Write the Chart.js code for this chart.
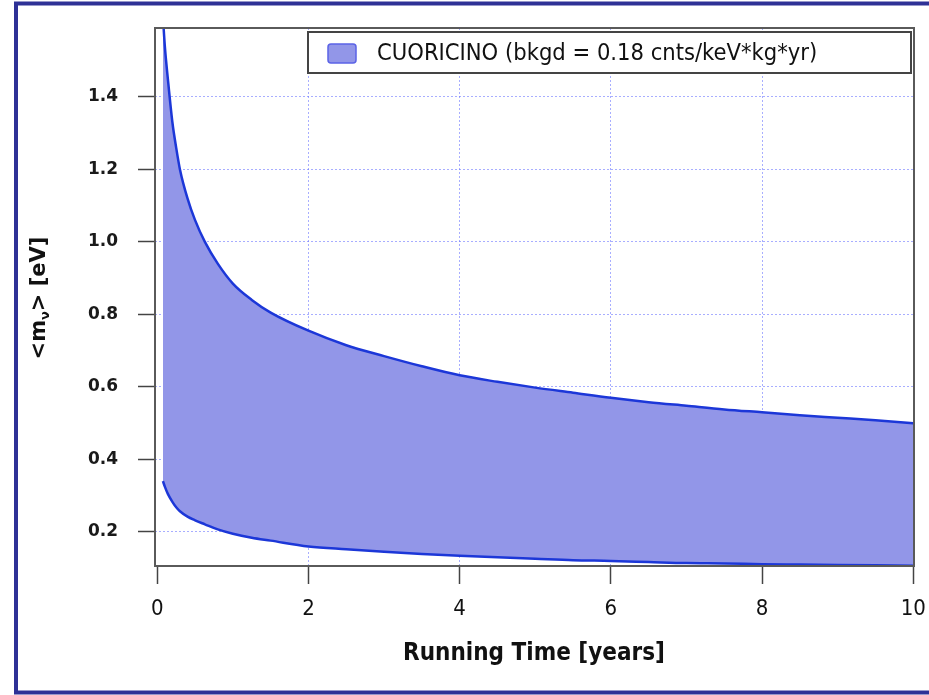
<!DOCTYPE html>
<html>
<head>
<meta charset="utf-8">
<script src="https://cdn.jsdelivr.net/npm/chart.js@4/dist/chart.umd.min.js"></script>
<style>
  html, body { margin: 0; padding: 0; background: #fff; }
  #wrap { width: 929px; height: 695px; }
</style>
</head>
<body>
<div id="wrap"><canvas id="mchart" width="929" height="695"></canvas></div>
<script>
// running time in years
const years = [0.075, 0.1, 0.14, 0.2, 0.25, 0.3, 0.4, 0.5, 0.63, 0.8, 1, 1.25, 1.5, 2, 2.5, 3, 3.5, 4, 4.5, 5, 5.5, 6, 6.5, 7, 7.5, 8, 8.5, 9, 9.5, 10];
// sensitivity band on <m_nu> in eV
const upperMass = [1.62, 1.54, 1.45, 1.33, 1.26, 1.20, 1.12, 1.06, 1.00, 0.94, 0.885, 0.84, 0.805, 0.755, 0.715, 0.685, 0.657, 0.632, 0.614, 0.598, 0.584, 0.570, 0.558, 0.548, 0.538, 0.530, 0.522, 0.515, 0.508, 0.500];
const lowerMass = [0.34, 0.325, 0.305, 0.283, 0.268, 0.257, 0.242, 0.232, 0.221, 0.207, 0.195, 0.184, 0.176, 0.160, 0.152, 0.145, 0.139, 0.134, 0.130, 0.126, 0.122, 0.120, 0.117, 0.114, 0.113, 0.111, 0.110, 0.109, 0.108, 0.107];
const xTicks = [0, 2, 4, 6, 8, 10];
const yTicks = [0.2, 0.4, 0.6, 0.8, 1.0, 1.2, 1.4];
const seriesLabel = 'CUORICINO (bkgd = 0.18 cnts/keV*kg*yr)';

const narrow = '"Liberation Sans Narrow", "DejaVu Sans Condensed", sans-serif';
const lineBlue = '#1c37d8';
const bandFill = '#9296e8';
const gridBlue = 'rgba(110,120,255,0.6)';

const decorations = {
  id: 'decorations',
  afterDraw(chart) {
    const ctx = chart.ctx;
    const a = chart.chartArea;
    ctx.save();

    // plot box
    ctx.strokeStyle = '#5a5a5a';
    ctx.lineWidth = 2;
    ctx.strokeRect(a.left, a.top, a.right - a.left, a.bottom - a.top);

    // legend
    ctx.fillStyle = '#fff';
    ctx.fillRect(308, 32, 603, 41);
    ctx.strokeStyle = '#444';
    ctx.lineWidth = 2;
    ctx.strokeRect(308, 32, 603, 41);
    ctx.fillStyle = bandFill;
    ctx.strokeStyle = '#5b63e6';
    ctx.lineWidth = 1.5;
    ctx.beginPath();
    ctx.roundRect(328, 44, 28, 19, 3);
    ctx.fill();
    ctx.stroke();
    ctx.fillStyle = '#111';
    ctx.font = '23.5px ' + narrow;
    ctx.textBaseline = 'middle';
    ctx.textAlign = 'left';
    ctx.fillText(chart.data.datasets[0].label, 377, 54);

    // x title
    ctx.font = 'bold 24px ' + narrow;
    ctx.textAlign = 'center';
    ctx.fillStyle = '#111';
    ctx.fillText('Running Time [years]', 534, 654);

    // y title with subscript nu
    ctx.translate(40, 298);
    ctx.rotate(-Math.PI / 2);
    const big = 'bold 21px "DejaVu Sans", sans-serif';
    const small = 'bold 13px "DejaVu Sans", sans-serif';
    ctx.font = big;
    const w1 = ctx.measureText('<m').width;
    const w3 = ctx.measureText('> [eV]').width;
    ctx.font = small;
    const w2 = ctx.measureText('\u03bd').width;
    let x = -(w1 + w2 + w3) / 2;
    ctx.textAlign = 'left';
    ctx.font = big;
    ctx.fillText('<m', x, 0);
    x += w1;
    ctx.font = small;
    ctx.fillText('\u03bd', x, 6);
    x += w2;
    ctx.font = big;
    ctx.fillText('> [eV]', x, 0);
    ctx.setTransform(1, 0, 0, 1, 0, 0);

    // outer frame
    ctx.strokeStyle = '#2e3196';
    ctx.lineWidth = 4;
    ctx.strokeRect(16, 3.5, 940, 689);
    ctx.restore();
  }
};

new Chart(document.getElementById('mchart'), {
  type: 'line',
  data: {
    labels: years,
    datasets: [{
      label: seriesLabel,
      data: upperMass,
      borderColor: lineBlue,
      borderWidth: 2.5,
      backgroundColor: bandFill,
      pointRadius: 0,
      cubicInterpolationMode: 'monotone',
      fill: '+1'
    }, {
      label: 'lower',
      data: lowerMass,
      borderColor: lineBlue,
      borderWidth: 2.5,
      pointRadius: 0,
      cubicInterpolationMode: 'monotone',
      fill: false
    }]
  },
  options: {
    responsive: false,
    animation: false,
    layout: { padding: { top: 28, right: 15, left: 0, bottom: 0 } },
    plugins: {
      legend: { display: false },
      tooltip: { enabled: false },
      filler: { drawTime: 'beforeDatasetsDraw' }
    },
    scales: {
      x: {
        type: 'linear',
        min: -0.03,
        max: 10.01,
        afterBuildTicks: s => { s.ticks = xTicks.map(v => ({ value: v })); },
        afterFit: s => { s.height = 129; s.paddingLeft = 0; s.paddingRight = 0; },
        border: { display: false, dash: [2, 2] },
        grid: {
          color: c => (c.tick && (c.tick.value === 0 || c.tick.value === 10)) ? 'rgba(0,0,0,0)' : gridBlue,
          lineWidth: 1,
          tickColor: '#444',
          tickLength: 18,
          tickWidth: 1.5,
          tickBorderDash: []
        },
        ticks: {
          color: '#111',
          padding: 12,
          maxRotation: 0,
          font: { family: narrow, size: 22 },
          callback: v => String(v)
        }
      },
      y: {
        min: 0.106,
        max: 1.59,
        afterBuildTicks: s => { s.ticks = yTicks.map(v => ({ value: v })); },
        afterFit: s => { s.width = 155; s.paddingTop = 0; s.paddingBottom = 0; },
        border: { display: false, dash: [2, 2] },
        grid: {
          color: gridBlue,
          lineWidth: 1,
          tickColor: '#444',
          tickLength: 17,
          tickWidth: 1.5,
          tickBorderDash: []
        },
        ticks: {
          color: '#1a1a1a',
          padding: 20,
          font: { family: '"DejaVu Sans", sans-serif', size: 17, weight: 'bold' },
          callback: v => v.toFixed(1)
        }
      }
    }
  },
  plugins: [decorations]
});
</script>
</body>
</html>
